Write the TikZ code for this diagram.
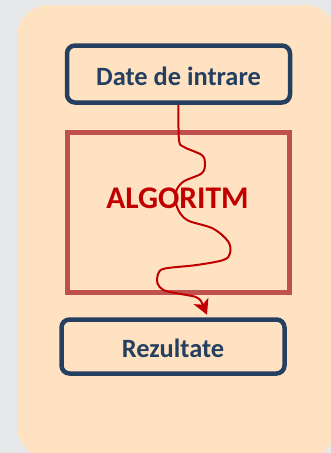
\documentclass[tikz,border=0pt]{standalone}
\usepackage{fontspec}
\setmainfont{Carlito}
\usetikzlibrary{arrows.meta, positioning}
\definecolor{SlateBack}{HTML}{E7E8EA}
\definecolor{PanelPeach}{HTML}{FFE2C1}
\definecolor{NavyInk}{HTML}{243F60}
\definecolor{BrickRed}{HTML}{C0504D}
\definecolor{AlgoRed}{HTML}{C00000}

\begin{document}
\begin{tikzpicture}[x=1pt, y=-1pt,
  iobox/.style={draw=NavyInk, line width=4.5pt, rounded corners=8pt, fill=PanelPeach,
    text=NavyInk, font=\bfseries\fontsize{26.4pt}{28pt}\selectfont,
    minimum width=223pt, text height=22pt, text depth=0pt}]
  \useasboundingbox (0,0) rectangle (331,453);
  % page and panel
  \fill[SlateBack] (0,0) rectangle (331,453);
  \fill[PanelPeach, rounded corners=32pt] (17,5) rectangle (337,458);
  % boxes
  \node[iobox, minimum height=57pt] (inbox) at (178.5,74) {Date de intrare};
  \node[draw=BrickRed, line width=4.5pt, minimum width=222pt, minimum height=160pt] (algo) at (178.5,212.5) {};
  \node[text=AlgoRed, font=\bfseries\fontsize{31.5pt}{33pt}\selectfont] (algtext) at ([xshift=-1pt, yshift=14pt]algo.center) {ALGORITM};
  \node[iobox, minimum height=54pt] (outbox) at (173,346.5) {Rezultate};
  % wandering path
  \draw[AlgoRed, line width=2pt]
    plot[smooth, tension=0.55] coordinates {(inbox.south) (179,140) (184,147) (201.7,155) (205,163.5)
      (201.7,173.3) (183.3,181.7) (176,192) (177,207) (187,220) (213,228.5) (228.3,241.7)
      (230,253.3) (223.3,260) (196.7,265) (165,268.5) (158.3,273.5) (157.5,283.3) (163.3,290)
      (176.7,293.3) (195,296.7) (201,301)} coordinate (bend);
  \draw[AlgoRed, line width=2pt, -{Stealth[length=15pt, width=16pt, inset=4pt]}]
    (bend) -- ([xshift=34pt, yshift=2.5pt]outbox.north);
\end{tikzpicture}
\end{document}
